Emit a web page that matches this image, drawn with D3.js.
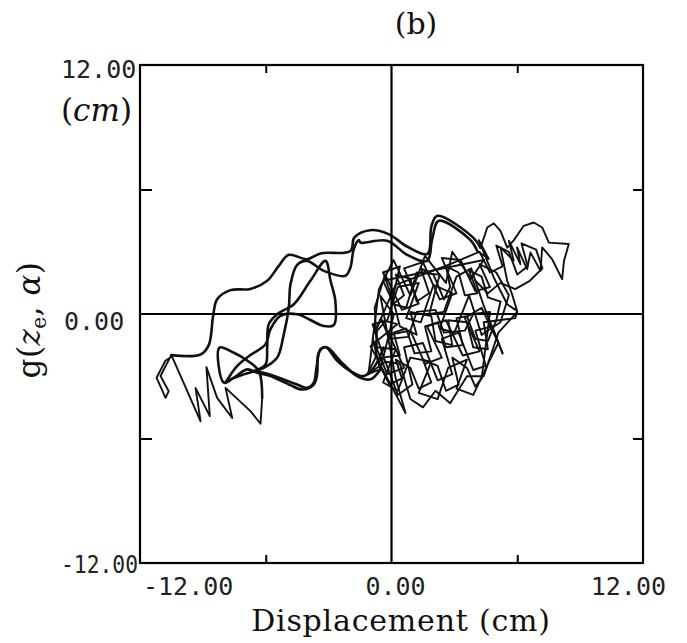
<!DOCTYPE html>
<html>
<head>
<meta charset="utf-8">
<script src="https://cdn.jsdelivr.net/npm/d3@7"></script>
<style>
  html, body { margin: 0; padding: 0; background: #fff; }
  svg { display: block; }
</style>
</head>
<body>
<svg id="chart" width="687" height="643"></svg>
<script>
// Hysteretic restoring term g(z_e, alpha) against displacement, both in cm.

const xDomain = [-12, 12];
const yDomain = [-12, 12];
const xTickLabels = ["-12.00", "0.00", "12.00"];
const yTickLabels = ["12.00", "0.00", "-12.00"];
const minorTicks = [-6, 6];

// Trajectory pieces, [displacement, g] in cm, in the order they are traced.
const lowerBranch = [
  [-0.37,-1.62],[-0.85,-2.59],[-1.32,-2.99],[-1.96,-2.75],[-2.60,-2.24],[-3.15,-1.59],
  [-3.47,-1.87],[-3.55,-2.91],[-3.71,-3.40],[-4.27,-3.64],[-4.82,-3.43],[-5.78,-2.99],
  [-6.41,-2.83],[-6.89,-2.67],[-7.52,-3.07],[-8.00,-3.31],[-8.21,-1.62],[-7.52,-1.87],
  [-6.89,-2.24],[-6.33,-2.75],[-6.17,-4.04]
];
const leftZigzag = [
  [-6.25,-5.29],[-6.73,-4.68],[-7.92,-3.56],[-7.60,-5.01],[-8.32,-4.04],[-8.83,-2.56],
  [-8.67,-4.92],[-9.35,-3.56],[-9.11,-5.17],[-10.47,-2.05],[-10.78,-2.24],[-11.21,-3.07],
  [-10.78,-4.04],[-10.63,-3.72],[-11.02,-2.99],[-10.51,-1.98]
];
const upperBranch = [
  [-9.11,-1.95],[-8.72,-1.50],[-8.51,-0.09],[-8.32,0.71],[-7.68,1.15],[-6.73,1.21],
  [-5.93,1.60],[-5.38,2.32],[-4.90,2.85],[-4.03,2.64],[-3.39,2.92],[-1.96,3.04],
  [-1.77,3.69],[-1.01,4.04],[-0.14,3.85],[0.76,3.24],[1.72,2.90],[1.91,4.25],
  [2.19,4.73],[3.91,3.67],[4.25,3.19]
];
const rightTip = [
  [4.57,4.17],[4.88,4.37],[5.20,4.01],[5.52,3.20],[5.83,3.55],[6.31,4.25],[6.79,4.41],
  [7.19,4.17],[7.51,3.44],[8.46,3.37],[8.23,2.56],[8.14,1.68],
  [7.66,2.65],[7.19,3.21],[7.11,2.08],[6.63,2.97],[6.47,2.16],[5.99,3.21],[6.15,2.40],
  [5.60,3.53],[5.83,2.57],[5.20,3.21],[5.52,1.60],[5.75,0.96],[5.99,0.15],[5.52,0.47],
  [4.88,1.76],[4.56,2.57],[4.17,3.56],[4.64,2.65],[4.09,3.04]
];
const innerReturn = [
  [3.77,3.56],[2.26,4.49],[1.94,3.61],[1.70,2.56],[0.75,2.85],[-0.21,3.53],[-1.48,3.44],
  [-1.56,3.56],[-1.80,3.13],[-1.96,2.24],[-2.20,1.84],[-3.23,2.08],[-4.03,2.56],
  [-4.50,2.37],[-4.82,1.43],[-4.90,0.31],[-5.14,-0.98],[-5.46,-2.11],[-6.09,-2.59],
  [-7.05,-2.91],[-7.68,-3.15],[-7.92,-3.31]
];
const middleLoop = [
  [-7.37,-2.51],[-6.73,-1.98],[-6.01,-1.46],[-5.78,-0.74],[-5.30,-0.09],[-4.50,-0.01],
  [-3.23,-0.58],[-2.75,-0.53],[-2.68,0.63],[-2.91,1.60],[-3.15,2.56],
  [-3.87,1.60],[-4.66,0.47],[-5.46,-0.01],[-5.86,-0.50],[-5.93,-1.62],[-6.01,-2.43],
  [-6.57,-2.75]
];
const lowerReturn = [
  [-5.93,-2.88],[-4.50,-3.40],[-4.03,-3.56],[-3.71,-3.31],[-3.58,-2.59],[-3.39,-1.70],
  [-3.07,-1.62],[-2.44,-2.27],[-1.64,-2.99],[-1.01,-3.15],[-0.53,-2.67]
];
// Small cycles around the origin
const clusterEdge = [
  [-1.16,-2.91],[-0.76,-2.10],[-0.69,-0.82],[-0.29,-0.33],[0.27,-0.49],
  [-1.00,-1.55],[0.67,-4.78],[0.20,-3.10],[-0.53,0.88],[0.11,-0.01],[-0.53,-2.67]
];
const clusterPassLow = [
  [-0.9,-1.2],[-0.2,-2.9],[0.6,-2.6],[-0.1,-1.0],[0.9,-0.8],[1.6,-2.4],[2.4,-2.1],[1.7,-0.6],
  [2.6,-0.3],[3.4,-2.0],[4.2,-1.8],[3.5,-0.2],[4.3,0.3],[5.1,-1.4],[4.6,-2.4],[3.9,-3.9],
  [3.1,-3.6],[3.6,-2.2],[2.7,-2.6],[2.2,-4.1],[1.3,-3.8],[1.9,-2.3],[0.9,-2.1],[0.3,-3.7],
  [-0.4,-3.3],[0.2,-1.7],[-0.7,-1.6],[-0.8,0.3]
];
const clusterPassHigh = [
  [-0.3,1.9],[0.5,0.2],[1.3,0.5],[0.6,2.2],[1.5,2.5],[2.3,0.7],[3.1,1.0],[2.4,2.7],
  [3.3,2.6],[4.0,1.1],[4.7,1.3],[4.2,2.4],[5.0,2.0],[5.6,0.9],[5.2,-0.4],[4.3,-1.0]
];
const clusterPassMid = [
  [3.7,0.9],[3.0,-0.9],[2.3,-0.7],[2.9,1.0],[2.0,1.4],[1.4,-0.4],[0.7,-0.2],[1.3,1.5],
  [0.3,1.3],[-0.2,-0.3],[-0.9,-0.5]
];
const clusterPassLow2 = [
  [-0.4,-2.0],[0.3,-3.9],[1.0,-3.4],[0.6,-1.6],[1.5,-1.4],[2.2,-3.2],[2.9,-2.9],[2.4,-1.2],
  [3.2,-0.9],[3.9,-2.7],[4.5,-2.5],[4.0,-0.8],[4.8,-0.6],[5.3,-1.9]
];
const clusterPassHigh2 = [
  [4.4,0.4],[3.8,2.2],[3.1,1.8],[2.5,0.1],[1.8,0.0],[2.3,1.9],[1.2,2.0],[0.7,0.3],
  [0.0,0.5],[0.4,2.3],[-0.4,2.0]
];
const clusterPassMid2 = [
  [0.1,0.6],[0.4,-0.6],[1.2,-1.0],[0.9,0.1],[1.9,-0.1],[2.1,-1.3],[2.9,-1.5],[2.7,-0.3],
  [3.6,-0.4],[3.9,-1.6],[4.6,-1.7],[4.4,-0.4],[5.9,-0.2],[6.0,0.1]
];
const clusterPassBottom = [
  [5.1,-0.9],[4.4,-3.0],[3.6,-3.0],[2.8,-4.3],[2.1,-3.7],[1.5,-4.5],[0.9,-4.1],[0.4,-2.4],
  [-0.3,-2.3],[-1.1,-2.9]
];
const clusterPassTop = [
  [-0.6,1.2],[0.1,2.6],[0.9,0.9],[1.6,2.8],[2.6,1.5],[2.9,3.0],[3.8,1.7],[4.4,2.6]
];
const clusterFine1 = [
  [-0.4,1.6],[0.1,0.5],[0.6,0.9],[0.2,1.9],[0.9,1.7],[1.2,0.6],[1.8,1.0],[1.4,2.2],
  [2.0,1.9],[2.5,0.7],[2.8,1.3],[2.6,2.3],[3.2,2.0],[3.5,0.9],[4.1,1.0],[3.7,2.1],
  [4.3,1.8],[4.6,0.8],[5.2,0.6]
];
const clusterFine2 = [
  [5.0,-0.3],[4.6,-1.3],[4.0,-1.2],[3.6,-0.1],[3.1,-0.2],[3.4,-1.5],[2.6,-1.6],[2.2,-0.4],
  [1.6,-0.6],[1.9,-1.8],[1.1,-1.9],[0.7,-0.7],[0.1,-0.9],[0.4,-2.0],[-0.5,-2.1]
];
const clusterFine3 = [
  [-0.6,-2.4],[-0.1,-3.4],[0.5,-3.1],[0.2,-2.2],[0.9,-2.6],[1.3,-3.6],[1.9,-3.3],[1.5,-2.2],
  [2.2,-2.5],[2.6,-3.7],[3.2,-3.4],[2.9,-2.1],[3.6,-2.6],[4.0,-3.5],[4.3,-3.1]
];
const clusterFine4 = [
  [4.7,0.1],[3.9,0.0],[3.5,-0.8],[2.5,-0.9],[2.1,0.2],[1.2,0.1],[0.8,-1.1],[-0.1,-1.2],
  [-0.5,-0.2],[-0.8,-0.9]
];
const clusterUpperRight = [
  [0.2,1.4],[2.8,2.4],[4.2,3.0],[4.7,2.0],[5.3,2.3],[5.0,3.3],[5.6,3.0],[6.0,1.9],
  [6.5,2.3],[6.2,3.4],[6.9,3.1],[7.2,2.2],[6.6,1.6],[5.9,1.2],[5.2,1.5],[4.6,1.0],[4.0,1.6]
];

// Smooth excursions are drawn with a spline, the fast small cycles with straight segments
const pieces = [
  { pts: lowerBranch, smooth: true },
  { pts: leftZigzag, smooth: false },
  { pts: upperBranch, smooth: true },
  { pts: rightTip, smooth: false },
  { pts: innerReturn, smooth: true },
  { pts: middleLoop, smooth: true },
  { pts: lowerReturn, smooth: true },
  { pts: clusterEdge, smooth: false },
  { pts: clusterPassLow, smooth: false },
  { pts: clusterPassHigh, smooth: false },
  { pts: clusterPassMid, smooth: false },
  { pts: clusterPassLow2, smooth: false },
  { pts: clusterPassHigh2, smooth: false },
  { pts: clusterPassMid2, smooth: false },
  { pts: clusterPassBottom, smooth: false },
  { pts: clusterPassTop, smooth: false },
  { pts: clusterFine1, smooth: false },
  { pts: clusterFine2, smooth: false },
  { pts: clusterFine3, smooth: false },
  { pts: clusterFine4, smooth: false },
  { pts: clusterUpperRight, smooth: false }
];

const svg = d3.select("#chart");
const plot = { left: 140, right: 643, top: 65, bottom: 563 };

const x = d3.scaleLinear().domain(xDomain).range([plot.left, plot.right]);
const y = d3.scaleLinear().domain(yDomain).range([plot.bottom, plot.top]);

const smoothLine = d3.line().x(d => x(d[0])).y(d => y(d[1])).curve(d3.curveCatmullRom.alpha(0.5));
const straightLine = d3.line().x(d => x(d[0])).y(d => y(d[1]));

// Each piece starts where the previous one ended so the curve stays continuous
const curveGroup = svg.append("g");
pieces.forEach((p, i) => {
  const pts = i > 0 ? [pieces[i - 1].pts[pieces[i - 1].pts.length - 1]].concat(p.pts) : p.pts;
  curveGroup.append("path")
    .datum(pts)
    .attr("d", p.smooth ? smoothLine : straightLine)
    .attr("fill", "none")
    .attr("stroke", "#111")
    .attr("stroke-width", p.smooth ? 2.6 : 1.9)
    .attr("stroke-linejoin", "round")
    .attr("stroke-linecap", "round");
});

// Axes through the origin
svg.append("line")
  .attr("x1", x(0)).attr("x2", x(0))
  .attr("y1", y(12)).attr("y2", y(-12))
  .attr("stroke", "#000").attr("stroke-width", 2.2);
svg.append("line")
  .attr("x1", x(-12)).attr("x2", x(12))
  .attr("y1", y(0)).attr("y2", y(0))
  .attr("stroke", "#000").attr("stroke-width", 2.2);

// Frame with inward ticks at +/-6
const tickStyle = g => {
  g.select(".domain").remove();
  g.selectAll(".tick line").attr("stroke", "#000").attr("stroke-width", 2);
  g.selectAll(".tick text").remove();
};
svg.append("g").attr("transform", `translate(0,${plot.top})`)
  .call(d3.axisBottom(x).tickValues(minorTicks).tickSize(8)).call(tickStyle);
svg.append("g").attr("transform", `translate(0,${plot.bottom})`)
  .call(d3.axisTop(x).tickValues(minorTicks).tickSize(8)).call(tickStyle);
svg.append("g").attr("transform", `translate(${plot.left},0)`)
  .call(d3.axisRight(y).tickValues(minorTicks).tickSize(12)).call(tickStyle);
svg.append("g").attr("transform", `translate(${plot.right},0)`)
  .call(d3.axisLeft(y).tickValues(minorTicks).tickSize(10)).call(tickStyle);

svg.append("rect")
  .attr("x", plot.left).attr("y", plot.top)
  .attr("width", plot.right - plot.left).attr("height", plot.bottom - plot.top)
  .attr("fill", "none").attr("stroke", "#000").attr("stroke-width", 2.2);

// Tick labels
const mono = "'DejaVu Sans Mono', monospace";
const xLabelPos = [
  { x: x(-12) + 3, anchor: "start" },
  { x: x(0) + 4, anchor: "middle" },
  { x: x(12) + 23, anchor: "end" }
];
svg.selectAll(".xlab").data(xTickLabels).enter().append("text")
  .attr("class", "xlab")
  .attr("x", (d, i) => xLabelPos[i].x)
  .attr("y", 595)
  .attr("text-anchor", (d, i) => xLabelPos[i].anchor)
  .attr("font-family", mono).attr("font-size", 25).attr("fill", "#222")
  .text(d => d);

const yLabelY = [y(12) + 13, y(0) + 16, y(-12) + 10];
svg.selectAll(".ylab").data(yTickLabels).enter().append("text")
  .attr("class", "ylab")
  .attr("x", (d, i) => i === 1 ? 64 : 61)
  .attr("y", (d, i) => yLabelY[i])
  .attr("font-family", mono).attr("font-size", 25).attr("fill", "#222")
  .attr("textLength", (d, i) => i === 2 ? 77 : null)
  .attr("lengthAdjust", "spacingAndGlyphs")
  .text(d => d);

const serif = "'DejaVu Serif', serif";

// Unit under the top y label
const unit = svg.append("text")
  .attr("x", 61).attr("y", 121)
  .attr("font-family", serif).attr("font-size", 31).attr("fill", "#111");
unit.append("tspan").text("(");
unit.append("tspan").attr("font-style", "italic").text("cm");
unit.append("tspan").text(")");

// Title
svg.append("text")
  .attr("x", 416).attr("y", 34)
  .attr("text-anchor", "middle")
  .attr("font-family", serif).attr("font-size", 30).attr("fill", "#111")
  .text("(b)");

// x axis title
svg.append("text")
  .attr("x", 401).attr("y", 631)
  .attr("text-anchor", "middle")
  .attr("font-family", serif).attr("font-size", 30).attr("letter-spacing", 0.8).attr("fill", "#111")
  .text("Displacement (cm)");

// y axis title
const yt = svg.append("text")
  .attr("transform", "translate(40,320) rotate(-90)")
  .attr("text-anchor", "middle")
  .attr("font-family", serif).attr("font-size", 31).attr("letter-spacing", 0.5).attr("fill", "#111");
yt.append("tspan").text("g(");
yt.append("tspan").attr("font-style", "italic").text("z");
yt.append("tspan").attr("font-size", 20).attr("dy", 6).text("e");
yt.append("tspan").attr("dy", -6).text(", ");
yt.append("tspan").attr("font-style", "italic").text("α");
yt.append("tspan").text(")");
</script>
</body>
</html>
